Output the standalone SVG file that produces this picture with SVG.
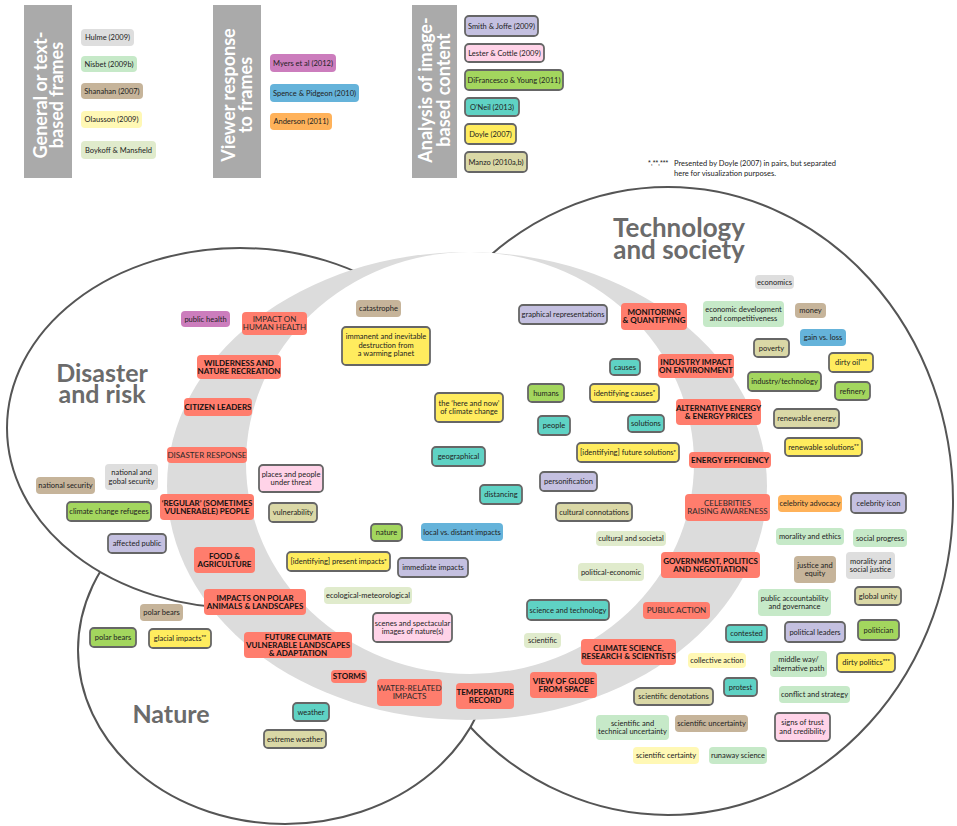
<svg xmlns="http://www.w3.org/2000/svg" width="957" height="826" viewBox="0 0 957 826">
<defs>
<style>
text{font-family:Lato,'Liberation Sans',sans-serif}
.bar{fill:#aaaaaa}
.bt{font-size:18px;font-weight:bold;fill:#fff;text-anchor:middle}
.title{font-size:25px;font-weight:bold;fill:#6b6b6b;text-anchor:middle}
.c{fill:#fff;stroke:#555;stroke-width:2}
.n{font-size:7.5px;fill:#222;text-anchor:middle}
.cb{font-size:8px;font-weight:bold;fill:#111;text-anchor:middle}
.cn{font-size:8px;fill:#2a2a2a;text-anchor:middle}
.fn{font-size:7.5px;fill:#222}
.sup{font-family:'Liberation Sans',sans-serif;font-size:6px}
rect{rx:4px;ry:4px}
.b{stroke:#666;stroke-width:1.8}
.red{fill:#ff7d6d}
.lav{fill:#c4c0e0}
.pnk{fill:#ffd3e8}
.grn{fill:#a3d65e}
.tea{fill:#5fd2c4}
.yel{fill:#ffec5e}
.kha{fill:#dad8a6}
.lgy{fill:#dedede}
.lgr{fill:#c6e9c8}
.tan{fill:#c6b49a}
.lye{fill:#fff8b5}
.pgr{fill:#e0ebcc}
.ppk{fill:#cc7dbd}
.blu{fill:#65b3da}
.org{fill:#ffb25a}
</style>
</defs>
<rect x="0" y="0" width="957" height="826" fill="#fff" style="rx:0;ry:0"/>

<g id="legend">
<g id="bar-general"><rect class="bar" x="24" y="5" width="48" height="173" style="rx:0;ry:0"/>
<text class="bt" transform="translate(47,95) rotate(-90)">General or text-</text>
<text class="bt" transform="translate(63,95) rotate(-90)">based frames</text></g>
<g id="bar-viewer"><rect class="bar" x="213" y="5" width="48" height="173" style="rx:0;ry:0"/>
<text class="bt" transform="translate(235,95) rotate(-90)">Viewer response</text>
<text class="bt" transform="translate(252,95) rotate(-90)">to frames</text></g>
<g id="bar-analysis"><rect class="bar" x="412" y="5" width="45" height="173" style="rx:0;ry:0"/>
<text class="bt" transform="translate(432,90) rotate(-90)">Analysis of image-</text>
<text class="bt" transform="translate(450,90) rotate(-90)">based content</text></g>

<g id="leg-hulme"><rect class="lgy" x="81" y="29" width="53" height="17"/><text class="n" x="107.5" y="40.1">Hulme (2009)</text></g>
<g id="leg-nisbet"><rect class="lgr" x="81" y="56" width="56" height="16"/><text class="n" x="109" y="66.6">Nisbet (2009b)</text></g>
<g id="leg-shanahan"><rect class="tan" x="81" y="83" width="62" height="16"/><text class="n" x="112" y="93.6">Shanahan (2007)</text></g>
<g id="leg-olausson"><rect class="lye" x="81" y="111" width="61" height="17"/><text class="n" x="111.5" y="122.1">Olausson (2009)</text></g>
<g id="leg-boykoff"><rect class="pgr" x="81" y="141" width="75" height="18"/><text class="n" x="118.5" y="152.6">Boykoff &amp; Mansfield</text></g>
<g id="leg-myers"><rect class="ppk" x="270" y="54" width="66" height="18"/><text class="n" x="303" y="65.6">Myers et al (2012)</text></g>
<g id="leg-spence"><rect class="blu" x="270" y="84" width="89" height="18"/><text class="n" x="314.5" y="95.6">Spence &amp; Pidgeon (2010)</text></g>
<g id="leg-anderson"><rect class="org" x="270" y="113" width="62" height="17"/><text class="n" x="301" y="124.1">Anderson (2011)</text></g>
<g id="leg-smith"><rect class="lav b" x="465" y="16" width="73" height="20"/><text class="n" x="501.5" y="28.6">Smith &amp; Joffe (2009)</text></g>
<g id="leg-lester"><rect class="pnk b" x="465" y="44" width="79" height="18"/><text class="n" x="504.5" y="55.6">Lester &amp; Cottle (2009)</text></g>
<g id="leg-difrancesco"><rect class="grn b" x="465" y="70" width="98" height="20"/><text class="n" x="514" y="82.6">DiFrancesco &amp; Young (2011)</text></g>
<g id="leg-oneil"><rect class="tea b" x="465" y="98" width="54" height="18"/><text class="n" x="492" y="109.6">O’Neil (2013)</text></g>
<g id="leg-doyle"><rect class="yel b" x="465" y="124" width="51" height="20"/><text class="n" x="490.5" y="136.6">Doyle (2007)</text></g>
<g id="leg-manzo"><rect class="kha b" x="465" y="152" width="62" height="20"/><text class="n" x="496" y="164.6">Manzo (2010a,b)</text></g>

<g id="footnote">
<text class="fn" x="648" y="165" style="font-family:'Liberation Sans',sans-serif;font-size:7px">*,**,***</text>
<text class="fn" x="674" y="166">Presented by Doyle (2007) in pairs, but separated</text>
<text class="fn" x="674" y="176">here for visualization purposes.</text>
</g>
</g>

<g id="areas">
<ellipse class="c" cx="668" cy="501" rx="285" ry="314"/>
<ellipse class="c" cx="285" cy="650" rx="207" ry="174"/>
<ellipse class="c" cx="240" cy="428" rx="233" ry="180"/>
<ellipse cx="467" cy="486" rx="300" ry="234" fill="#dcdcdc"/>
<ellipse cx="470" cy="463" rx="224" ry="211" fill="#fff"/>
<text class="title" x="102" y="382">Disaster</text>
<text class="title" x="102" y="403">and risk</text>
<text class="title" x="679" y="237" style="font-size:26px">Technology</text>
<text class="title" x="679" y="259" style="font-size:26px">and society</text>
<text class="title" x="171" y="723">Nature</text>
</g>

<g id="connectors"></g>

<g id="nodes">
<g id="public-health"><rect class="ppk" x="181" y="311" width="49" height="16"/><text class="n" x="205.5" y="321.6">public health</text></g>
<g id="impact-human-health"><rect class="red" x="242" y="312" width="65" height="23"/><text class="cn" x="274.5" y="322.4">IMPACT ON</text><text class="cn" x="274.5" y="330.4">HUMAN HEALTH</text></g>
<g id="wilderness"><rect class="red" x="197" y="355" width="84" height="24"/><text class="cb" x="239" y="365.9">WILDERNESS AND</text><text class="cb" x="239" y="373.9">NATURE RECREATION</text></g>
<g id="citizen-leaders"><rect class="red" x="184" y="398" width="68" height="18"/><text class="cb" x="218" y="409.9">CITIZEN LEADERS</text></g>
<g id="catastrophe"><rect class="tan" x="356" y="300" width="45" height="17"/><text class="n" x="378.5" y="311.1">catastrophe</text></g>
<g id="immanent"><rect class="yel b" x="342" y="327" width="88" height="38"/><text class="n" x="386" y="339">immanent and inevitable</text><text class="n" x="386" y="347.5">destruction from</text><text class="n" x="386" y="356">a warming planet</text></g>
<g id="graphical"><rect class="lav b" x="519" y="305" width="88" height="19"/><text class="n" x="563" y="317.1">graphical representations</text></g>
<g id="monitoring"><rect class="red" x="621" y="303" width="66" height="27"/><text class="cb" x="654" y="315.4">MONITORING</text><text class="cb" x="654" y="323.4">&amp; QUANTIFYING</text></g>
<g id="causes"><rect class="tea b" x="610" y="359" width="30" height="16"/><text class="n" x="625" y="369.6">causes</text></g>
<g id="humans"><rect class="grn b" x="528" y="384" width="36" height="18"/><text class="n" x="546" y="395.6">humans</text></g>
<g id="identifying-causes"><rect class="yel b" x="590" y="384" width="69" height="18"/><text class="n" x="624.5" y="395.6">identifying causes<tspan class="sup" dy="-1.5">*</tspan></text></g>
<g id="here-and-now"><rect class="yel b" x="435" y="393" width="68" height="29"/><text class="n" x="469" y="405.85">the ‘here and now’</text><text class="n" x="469" y="414.35">of climate change</text></g>
<g id="economics"><rect class="lgy" x="755" y="275" width="39" height="14"/><text class="n" x="774.5" y="284.6">economics</text></g>
<g id="economic-development"><rect class="lgr" x="703" y="301" width="81" height="26"/><text class="n" x="743.5" y="312.35">economic development</text><text class="n" x="743.5" y="320.85">and competitiveness</text></g>
<g id="money"><rect class="tan" x="795" y="303" width="31" height="15"/><text class="n" x="810.5" y="313.1">money</text></g>
<g id="gain-vs-loss"><rect class="blu" x="800" y="329" width="46" height="17"/><text class="n" x="823" y="340.1">gain vs. loss</text></g>
<g id="poverty"><rect class="kha b" x="754" y="339" width="35" height="18"/><text class="n" x="771.5" y="350.6">poverty</text></g>
<g id="dirty-oil"><rect class="yel b" x="829" y="353" width="44" height="19"/><text class="n" x="851" y="365.1">dirty oil<tspan class="sup" dy="-2">***</tspan></text></g>
<g id="industry-impact"><rect class="red" x="658" y="354" width="76" height="24"/><text class="cb" x="696" y="364.9">INDUSTRY IMPACT</text><text class="cb" x="696" y="372.9">ON ENVIRONMENT</text></g>
<g id="industry-technology"><rect class="grn b" x="748" y="372" width="73" height="19"/><text class="n" x="784.5" y="384.1">industry/technology</text></g>
<g id="refinery"><rect class="grn b" x="835" y="382" width="35" height="18"/><text class="n" x="852.5" y="393.6">refinery</text></g>
<g id="alternative-energy"><rect class="red" x="676" y="399" width="85" height="26"/><text class="cb" x="718.5" y="410.9">ALTERNATIVE ENERGY</text><text class="cb" x="718.5" y="418.9">&amp; ENERGY PRICES</text></g>
<g id="renewable-energy"><rect class="kha b" x="774" y="409" width="65" height="19"/><text class="n" x="806.5" y="421.1">renewable energy</text></g>
<g id="disaster-response"><rect class="red" x="167" y="447" width="80" height="16"/><text class="cn" x="207" y="457.9">DISASTER RESPONSE</text></g>
<g id="national-gobal-security"><rect class="lgy" x="105" y="464" width="53" height="26"/><text class="n" x="131.5" y="475.35">national and</text><text class="n" x="131.5" y="483.85">gobal security</text></g>
<g id="national-security"><rect class="tan" x="36" y="477" width="59" height="17"/><text class="n" x="65.5" y="488.1">national security</text></g>
<g id="places-people"><rect class="pnk b" x="259" y="465" width="64" height="27"/><text class="n" x="291" y="476.85">places and people</text><text class="n" x="291" y="485.35">under threat</text></g>
<g id="regular-people"><rect class="red" x="160" y="494" width="94" height="26"/><text class="cb" x="207" y="505.9">‘REGULAR’ (SOMETIMES</text><text class="cb" x="207" y="513.9">VULNERABLE) PEOPLE</text></g>
<g id="climate-refugees"><rect class="grn b" x="67" y="502" width="84" height="19"/><text class="n" x="109" y="514.1">climate change refugees</text></g>
<g id="vulnerability"><rect class="kha b" x="269" y="503" width="48" height="19"/><text class="n" x="293" y="515.1">vulnerability</text></g>
<g id="affected-public"><rect class="lav b" x="108" y="534" width="58" height="19"/><text class="n" x="137" y="546.1">affected public</text></g>
<g id="food-agriculture"><rect class="red" x="194" y="547" width="61" height="26"/><text class="cb" x="224.5" y="558.9">FOOD &amp;</text><text class="cb" x="224.5" y="566.9">AGRICULTURE</text></g>
<g id="polar-impacts"><rect class="red" x="204" y="589" width="102" height="26"/><text class="cb" x="255" y="600.9">IMPACTS ON POLAR</text><text class="cb" x="255" y="608.9">ANIMALS &amp; LANDSCAPES</text></g>
<g id="polar-bears-tan"><rect class="tan" x="140" y="604" width="43" height="17"/><text class="n" x="161.5" y="615.1">polar bears</text></g>
<g id="present-impacts"><rect class="yel b" x="287" y="552" width="103" height="19"/><text class="n" x="338.5" y="564.1">[identifying] present impacts<tspan class="sup" dy="-1.5">*</tspan></text></g>
<g id="people"><rect class="tea b" x="538" y="416" width="32" height="19"/><text class="n" x="554" y="428.1">people</text></g>
<g id="solutions"><rect class="tea b" x="628" y="415" width="36" height="17"/><text class="n" x="646" y="426.1">solutions</text></g>
<g id="geographical"><rect class="tea b" x="432" y="447" width="53" height="19"/><text class="n" x="458.5" y="459.1">geographical</text></g>
<g id="future-solutions"><rect class="yel b" x="577" y="443" width="102" height="19"/><text class="n" x="628" y="455.1">[identifying] future solutions<tspan class="sup" dy="-1.5">*</tspan></text></g>
<g id="personification"><rect class="lav b" x="540" y="472" width="57" height="19"/><text class="n" x="568.5" y="484.1">personification</text></g>
<g id="distancing"><rect class="tea b" x="480" y="485" width="42" height="19"/><text class="n" x="501" y="497.1">distancing</text></g>
<g id="cultural-connotations"><rect class="kha b" x="556" y="503" width="76" height="18"/><text class="n" x="594" y="514.6">cultural connotations</text></g>
<g id="nature"><rect class="grn b" x="371" y="524" width="31" height="17"/><text class="n" x="386.5" y="535.1">nature</text></g>
<g id="local-distant"><rect class="blu" x="421" y="523" width="82" height="18"/><text class="n" x="462" y="534.6">local vs. distant impacts</text></g>
<g id="cultural-societal"><rect class="pgr" x="596" y="531" width="70" height="15"/><text class="n" x="631" y="541.1">cultural and societal</text></g>
<g id="immediate-impacts"><rect class="lav b" x="398" y="558" width="70" height="19"/><text class="n" x="433" y="570.1">immediate impacts</text></g>
<g id="political-economic"><rect class="pgr" x="578" y="563" width="66" height="18"/><text class="n" x="611" y="574.6">political-economic</text></g>
<g id="ecological-meteorological"><rect class="pgr" x="324" y="587" width="88" height="17"/><text class="n" x="368" y="598.1">ecological-meteorological</text></g>
<g id="scenes"><rect class="pnk b" x="373" y="613" width="79" height="29"/><text class="n" x="412.5" y="625.85">scenes and spectacular</text><text class="n" x="412.5" y="634.35">images of nature(s)</text></g>
<g id="science-technology"><rect class="tea b" x="527" y="600" width="82" height="20"/><text class="n" x="568" y="612.6">science and technology</text></g>
<g id="renewable-solutions"><rect class="yel b" x="785" y="438" width="77" height="18"/><text class="n" x="823.5" y="449.6">renewable solutions<tspan class="sup" dy="-2">**</tspan></text></g>
<g id="energy-efficiency"><rect class="red" x="689" y="452" width="82" height="16"/><text class="cb" x="730" y="462.9">ENERGY EFFICIENCY</text></g>
<g id="celebrities"><rect class="red" x="685" y="494" width="85" height="27"/><text class="cn" x="727.5" y="506.4">CELEBRITIES</text><text class="cn" x="727.5" y="514.4">RAISING AWARENESS</text></g>
<g id="celebrity-advocacy"><rect class="org" x="778" y="495" width="64" height="17"/><text class="n" x="810" y="506.1">celebrity advocacy</text></g>
<g id="celebrity-icon"><rect class="lav b" x="851" y="493" width="55" height="20"/><text class="n" x="878.5" y="505.6">celebrity icon</text></g>
<g id="morality-ethics"><rect class="lgr" x="776" y="528" width="68" height="17"/><text class="n" x="810" y="539.1">morality and ethics</text></g>
<g id="social-progress"><rect class="lgr" x="853" y="529" width="54" height="18"/><text class="n" x="880" y="540.6">social progress</text></g>
<g id="government"><rect class="red" x="661" y="552" width="99" height="26"/><text class="cb" x="710.5" y="563.9">GOVERNMENT, POLITICS</text><text class="cb" x="710.5" y="571.9">AND NEGOTIATION</text></g>
<g id="justice-equity"><rect class="tan" x="794" y="556" width="42" height="27"/><text class="n" x="815" y="567.85">justice and</text><text class="n" x="815" y="576.35">equity</text></g>
<g id="morality-social-justice"><rect class="lgy" x="846" y="552" width="49" height="27"/><text class="n" x="870.5" y="563.85">morality and</text><text class="n" x="870.5" y="572.35">social justice</text></g>
<g id="global-unity"><rect class="kha b" x="855" y="587" width="46" height="18"/><text class="n" x="878" y="598.6">global unity</text></g>
<g id="public-accountability"><rect class="lgr" x="758" y="589" width="73" height="27"/><text class="n" x="794.5" y="600.85">public accountability</text><text class="n" x="794.5" y="609.35">and governance</text></g>
<g id="public-action"><rect class="red" x="643" y="602" width="67" height="17"/><text class="cn" x="676.5" y="613.4">PUBLIC ACTION</text></g>
<g id="contested"><rect class="tea b" x="726" y="625" width="41" height="17"/><text class="n" x="746.5" y="636.1">contested</text></g>
<g id="political-leaders"><rect class="lav b" x="785" y="622" width="60" height="20"/><text class="n" x="815" y="634.6">political leaders</text></g>
<g id="politician"><rect class="grn b" x="858" y="620" width="41" height="20"/><text class="n" x="878.5" y="632.6">politician</text></g>
<g id="climate-science"><rect class="red" x="581" y="639" width="95" height="26"/><text class="cb" x="628.5" y="650.9">CLIMATE SCIENCE,</text><text class="cb" x="628.5" y="658.9">RESEARCH &amp; SCIENTISTS</text></g>
<g id="collective-action"><rect class="lye" x="688" y="653" width="58" height="15"/><text class="n" x="717" y="663.1">collective action</text></g>
<g id="middle-way"><rect class="lgr" x="770" y="651" width="57" height="26"/><text class="n" x="798.5" y="662.35">middle way/</text><text class="n" x="798.5" y="670.85">alternative path</text></g>
<g id="dirty-politics"><rect class="yel b" x="837" y="653" width="58" height="19"/><text class="n" x="866" y="665.1">dirty politics<tspan class="sup" dy="-2">***</tspan></text></g>
<g id="protest"><rect class="tea b" x="724" y="678" width="33" height="18"/><text class="n" x="740.5" y="689.6">protest</text></g>
<g id="scientific-denotations"><rect class="kha b" x="634" y="688" width="79" height="17"/><text class="n" x="673.5" y="699.1">scientific denotations</text></g>
<g id="conflict-strategy"><rect class="lgr" x="779" y="686" width="71" height="17"/><text class="n" x="814.5" y="697.1">conflict and strategy</text></g>
<g id="scientific-technical-uncertainty"><rect class="lgr" x="596" y="715" width="73" height="25"/><text class="n" x="632.5" y="725.85">scientific and</text><text class="n" x="632.5" y="734.35">technical uncertainty</text></g>
<g id="scientific-uncertainty"><rect class="tan" x="675" y="715" width="73" height="17"/><text class="n" x="711.5" y="726.1">scientific uncertainty</text></g>
<g id="signs-of-trust"><rect class="pnk b" x="775" y="713" width="55" height="28"/><text class="n" x="802.5" y="725.35">signs of trust</text><text class="n" x="802.5" y="733.85">and credibility</text></g>
<g id="scientific-certainty"><rect class="lye" x="633" y="747" width="66" height="17"/><text class="n" x="666" y="758.1">scientific certainty</text></g>
<g id="runaway-science"><rect class="lgr" x="709" y="747" width="58" height="17"/><text class="n" x="738" y="758.1">runaway science</text></g>
<g id="scientific"><rect class="pgr" x="524" y="633" width="37" height="15"/><text class="n" x="542.5" y="643.1">scientific</text></g>
<g id="storms"><rect class="red" x="331" y="670" width="36" height="13"/><text class="cb" x="349" y="679.4">STORMS</text></g>
<g id="water-related"><rect class="red" x="377" y="679" width="65" height="27"/><text class="cn" x="409.5" y="691.4">WATER-RELATED</text><text class="cn" x="409.5" y="699.4">IMPACTS</text></g>
<g id="temperature-record"><rect class="red" x="456" y="683" width="58" height="26"/><text class="cb" x="485" y="694.9">TEMPERATURE</text><text class="cb" x="485" y="702.9">RECORD</text></g>
<g id="view-of-globe"><rect class="red" x="530" y="672" width="67" height="26"/><text class="cb" x="563.5" y="683.9">VIEW OF GLOBE</text><text class="cb" x="563.5" y="691.9">FROM SPACE</text></g>
<g id="future-climate"><rect class="red" x="244" y="632" width="108" height="26"/><text class="cb" x="298" y="639.9">FUTURE CLIMATE</text><text class="cb" x="298" y="647.9">VULNERABLE LANDSCAPES</text><text class="cb" x="298" y="655.9">&amp; ADAPTATION</text></g>
<g id="polar-bears-green"><rect class="grn b" x="90" y="628" width="46" height="19"/><text class="n" x="113" y="640.1">polar bears</text></g>
<g id="glacial-impacts"><rect class="yel b" x="149" y="629" width="62" height="19"/><text class="n" x="180" y="641.1">glacial impacts<tspan class="sup" dy="-2">**</tspan></text></g>
<g id="weather"><rect class="tea b" x="293" y="703" width="36" height="18"/><text class="n" x="311" y="714.6">weather</text></g>
<g id="extreme-weather"><rect class="kha b" x="264" y="730" width="62" height="18"/><text class="n" x="295" y="741.6">extreme weather</text></g>
</g>
</svg>
